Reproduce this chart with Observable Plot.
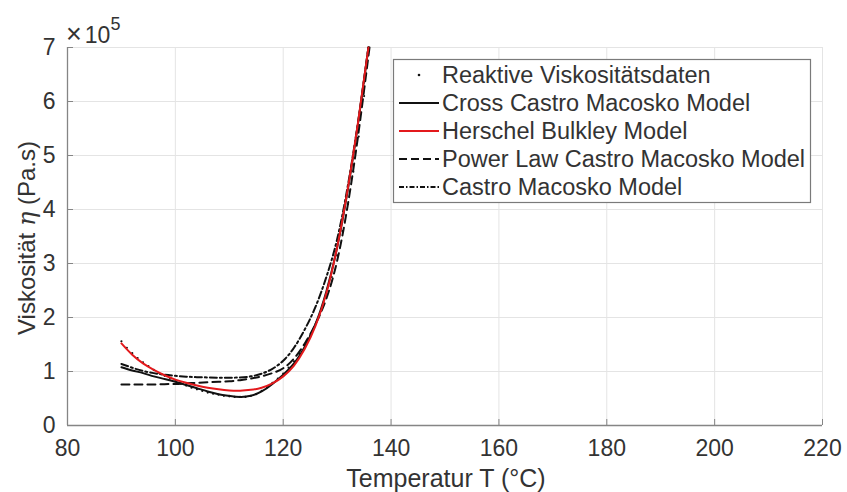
<!DOCTYPE html>
<html><head><meta charset="utf-8">
<script src="https://cdn.jsdelivr.net/npm/d3@7"></script>
<script src="https://cdn.jsdelivr.net/npm/@observablehq/plot@0.6"></script>
<style>
html,body{margin:0;padding:0;background:#fff;}
#chart{position:relative;width:847px;height:492px;}
</style>
</head><body><div id="chart"></div>
<script>
// tick values
const xTicks = [80, 100, 120, 140, 160, 180, 200, 220];
const yTicks = [0, 1, 2, 3, 4, 5, 6, 7];

// series labels
const seriesNames = ["Reaktive Viskositätsdaten", "Cross Castro Macosko Model", "Herschel Bulkley Model", "Power Law Castro Macosko Model", "Castro Macosko Model"];

// viscosity values in units of 1e5 Pa.s
const dataT   = [90,91,92,93,94,95,96,97,98,99,100,101,102,103,104,105,106,107,108,109,110,111,112,113,114,115,116,117,118,119,120,121,122,123,124,125,126,127,128,129,130,131,132,133,134,135,135.8];
const dataEta = [1.56,1.44,1.34,1.25,1.17,1.10,1.03,0.97,0.92,0.87,0.82,0.78,0.74,0.70,0.67,0.64,0.61,0.59,0.57,0.55,0.54,0.53,0.53,0.53,0.55,0.58,0.64,0.71,0.79,0.87,0.96,1.07,1.19,1.33,1.49,1.67,1.88,2.12,2.40,2.75,3.15,3.60,4.10,4.70,5.35,6.10,7.00];

const crossT   = [90,92,94,96,98,100,102,104,106,108,110,112,114,116,118,120,122,124,126,128,130,132,134,135.8];
const crossEta = [1.08,1.02,0.97,0.91,0.86,0.81,0.75,0.69,0.63,0.58,0.55,0.53,0.55,0.63,0.77,0.94,1.15,1.46,1.88,2.48,3.30,4.38,5.68,7.00];

const hbT   = [90,92,94,96,98,100,102,104,106,108,110,112,114,116,118,120,122,124,126,128,130,132,134,135.8];
const hbEta = [1.52,1.31,1.15,1.03,0.93,0.85,0.79,0.74,0.70,0.67,0.65,0.645,0.66,0.70,0.78,0.91,1.11,1.42,1.85,2.45,3.30,4.40,5.70,7.00];

const plT   = [90,92,94,96,98,100,102,104,106,108,110,112,114,116,118,120,122,124,126,128,130,132,134,136];
const plEta = [0.76,0.76,0.76,0.76,0.765,0.77,0.78,0.79,0.80,0.81,0.82,0.84,0.87,0.91,0.97,1.06,1.24,1.52,1.88,2.35,3.05,4.10,5.45,7.00];

const cmT   = [90,92,94,96,98,100,102,104,106,108,110,112,114,116,118,120,122,124,126,128,130,132,134,135.8];
const cmEta = [1.14,1.07,1.01,0.97,0.94,0.92,0.905,0.895,0.89,0.885,0.885,0.89,0.91,0.96,1.05,1.20,1.44,1.78,2.20,2.75,3.45,4.45,5.70,7.00];

const toRows = (T, E) => T.map((t, i) => ({T: t, eta: E[i]}));
const dataRows = toRows(dataT, dataEta);
const crossRows = toRows(crossT, crossEta);
const hbRows = toRows(hbT, hbEta);
const plRows = toRows(plT, plEta);
const cmRows = toRows(cmT, cmEta);

const axisColor = "#858585";
const textColor = "#333333";
const gridColor = "#e4e4e4";
const red = "#e3191c";
const dashPL = "8,5";
const dashCM = "7,3,2,3";
const FONT = "'Liberation Sans', Arial, Helvetica, sans-serif";

const chart = Plot.plot({
  width: 847, height: 492,
  marginLeft: 67, marginRight: 25, marginTop: 47, marginBottom: 67,
  style: {fontFamily: FONT, background: "white", color: textColor, overflow: "visible"},
  x: {domain: [80, 220], ticks: xTicks, label: null},
  y: {domain: [0, 7], ticks: yTicks, label: null},
  marks: [
    Plot.gridX(xTicks, {stroke: gridColor, strokeOpacity: 1, strokeWidth: 1}),
    Plot.gridY(yTicks, {stroke: gridColor, strokeOpacity: 1, strokeWidth: 1}),
    Plot.ruleX([80], {stroke: axisColor, strokeWidth: 1.3}),
    Plot.ruleY([0], {stroke: axisColor, strokeWidth: 1.3}),
    Plot.axisX(xTicks, {tickSize: 6, dy: -6, fill: "none", stroke: axisColor, label: null}),
    Plot.axisY(yTicks, {tickSize: 6, dx: 6, fill: "none", stroke: axisColor, label: null}),
    Plot.axisX(xTicks, {tickSize: 0, tickPadding: 14, fontSize: 23, fill: textColor, label: null, tickFormat: d3.format("d")}),
    Plot.axisY(yTicks, {tickSize: 0, tickPadding: 12, fontSize: 23, fill: textColor, label: null, tickFormat: d3.format("d")}),
    Plot.dot(dataRows, {x: "T", y: "eta", r: 1.1, fill: "#111", stroke: "none"}),
    Plot.line(plRows, {x: "T", y: "eta", stroke: "#111", strokeWidth: 2, strokeDasharray: dashPL, curve: "natural"}),
    Plot.line(cmRows, {x: "T", y: "eta", stroke: "#111", strokeWidth: 2, strokeDasharray: dashCM, curve: "natural"}),
    Plot.line(crossRows, {x: "T", y: "eta", stroke: "#111", strokeWidth: 2, curve: "natural"}),
    Plot.line(hbRows, {x: "T", y: "eta", stroke: red, strokeWidth: 2, curve: "natural"})
  ]
});
document.getElementById("chart").append(chart);

const svg = d3.select(chart);
// exponent label
const expo = svg.append("text").attr("x", 66).attr("y", 43).attr("text-anchor", "start")
  .attr("font-family", FONT).attr("fill", textColor).attr("font-size", 23);
expo.append("tspan").attr("font-size", 27).text("×");
expo.append("tspan").attr("dx", 3).text("10");
expo.append("tspan").attr("dy", -13).attr("font-size", 18).text("5");

// x title
svg.append("text").attr("x", 446).attr("y", 487).attr("text-anchor", "middle")
  .attr("font-family", FONT).attr("font-size", 25).attr("fill", textColor)
  .text("Temperatur T (°C)");

// y title
const yt = svg.append("text").attr("transform", "translate(35,238) rotate(-90)")
  .attr("text-anchor", "middle").attr("font-family", FONT).attr("font-size", 24).attr("fill", textColor);
yt.append("tspan").text("Viskosität ");
yt.append("tspan").attr("font-family", "'DejaVu Serif', 'Liberation Serif', serif").attr("font-style", "italic").text("η");
yt.append("tspan").text(" (Pa.s)");

// legend
const lg = svg.append("g").attr("text-anchor", "start");
lg.append("rect").attr("x", 393.5).attr("y", 59.5).attr("width", 417).attr("height", 143)
  .attr("fill", "white").attr("stroke", "#7a7a7a").attr("stroke-width", 1.2);
const styles = [
  {type: "dot"},
  {stroke: "#111", dash: null},
  {stroke: red, dash: null},
  {stroke: "#111", dash: "8,4"},
  {stroke: "#111", dash: "5,2,1.5,2"}
];
seriesNames.forEach((name, i) => {
  const cy = 75 + i * 28;
  if (styles[i].type === "dot") {
    lg.append("circle").attr("cx", 419).attr("cy", cy).attr("r", 1.3).attr("fill", "#111");
  } else {
    const l = lg.append("line").attr("x1", 399).attr("x2", 439).attr("y1", cy).attr("y2", cy)
      .attr("stroke", styles[i].stroke).attr("stroke-width", 2);
    if (styles[i].dash) l.attr("stroke-dasharray", styles[i].dash);
  }
  lg.append("text").attr("x", 442).attr("y", cy).attr("dy", "0.36em").attr("text-anchor", "start")
    .attr("font-family", FONT).attr("font-size", 23.5).attr("fill", textColor).text(name);
});
</script>
</body></html>
